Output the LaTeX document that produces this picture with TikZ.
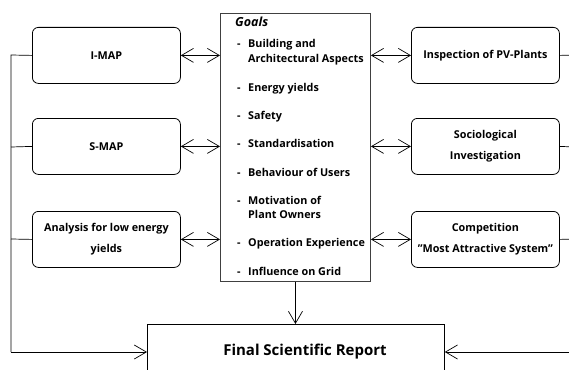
\documentclass[tikz,border=0pt]{standalone}
\usepackage{fontspec}
\setmainfont{Open Sans}
\usetikzlibrary{arrows.meta}
\begin{document}
\begin{tikzpicture}[x=1pt,y=-1pt,
  font=\fontsize{10.8}{14}\selectfont\bfseries,
  rbox/.style={draw, line width=0.8pt, rounded corners=6pt, minimum width=148pt, minimum height=56pt, inner sep=0pt, align=center, anchor=north west},
  link/.style={line width=0.7pt},
  barb/.style={line width=0.7pt, arrows={Straight Barb[length=12pt,width=14pt]-Straight Barb[length=12pt,width=14pt]}},
  tip/.style={line width=0.7pt, -{Straight Barb[length=12pt,width=14pt]}},
  item/.style={anchor=base west, inner sep=0pt}]
\useasboundingbox (0,0) rectangle (569,369);
\clip (0,0) rectangle (569,369);
% left boxes
\node[rbox] (imap) at (32,27) {I-MAP};
\node[rbox] (smap) at (32,118) {S-MAP};
\node[rbox] (ana) at (32,211) {Analysis for low energy\\[7pt]yields};
% right boxes
\node[rbox] (insp) at (411,27) {Inspection of PV-Plants};
\node[rbox] (soc) at (411,118) {Sociological\\[7pt]Investigation};
\node[rbox] (comp) at (411,211) {Competition\\[7pt]"Most Attractive System"};
% center goals box
\node[draw=black!75, line width=0.9pt, minimum width=150pt, minimum height=268pt, inner sep=0pt, anchor=north west] (goals) at (220,13) {};
\node[item, font=\fontsize{12.5}{14}\selectfont\bfseries\itshape] (gt) at (235,26.5) {Goals};
\foreach \y/\t [count=\i] in {48/{Building and},91/{Energy yields},119/{Safety},147/{Standardisation},176/{Behaviour of Users},204/{Motivation of},246/{Operation Experience},275/{Influence on Grid}}{
  \node[item] (d\i) at (237,\y) {-};
  \node[item] (g\i) at (248,\y) {\t};
}
\node[item] (g1b) at (248,62) {Architectural Aspects};
\node[item] (g6b) at (248,218) {Plant Owners};
% final report
\node[draw, line width=0.8pt, minimum width=297pt, minimum height=60pt, anchor=north west, inner sep=0pt] (rep) at (147,324) {};
\node[font=\fontsize{15}{18}\selectfont\bfseries] (rept) at (305,352) {Final Scientific Report};
% coordinates for the buses
\coordinate (lb1) at (11,55);
\coordinate (lb2) at (11,147);
\coordinate (lb3) at (11,239);
\coordinate (lb4) at (11,352);
\coordinate (rb1) at (575,55);
\coordinate (rb2) at (575,147);
\coordinate (rb3) at (575,239);
\coordinate (rb4) at (575,352);
% double arrows
\draw[barb] (imap.east) -- (imap.east -| goals.west);
\draw[barb] (smap.east) -- (smap.east -| goals.west);
\draw[barb] (ana.east) -- (ana.east -| goals.west);
\draw[barb] (insp.west -| goals.east) -- (insp.west);
\draw[barb] (soc.west -| goals.east) -- (soc.west);
\draw[barb] (comp.west -| goals.east) -- (comp.west);
% goals to report
\draw[tip] (goals.south) -- (goals.south |- rep.north);
% left bus
\draw[link] (imap.west) -- (lb1) -- (lb4);
\draw[link] (smap.west) -- (lb2);
\draw[link] (ana.west) -- (lb3);
\draw[tip] (lb4) -- (lb4 -| rep.west);
% right bus
\draw[link] (insp.east) -- (rb1) -- (rb4);
\draw[link] (soc.east) -- (rb2);
\draw[link] (comp.east) -- (rb3);
\draw[tip] (rb4) -- (rb4 -| rep.east);
\end{tikzpicture}
\end{document}
